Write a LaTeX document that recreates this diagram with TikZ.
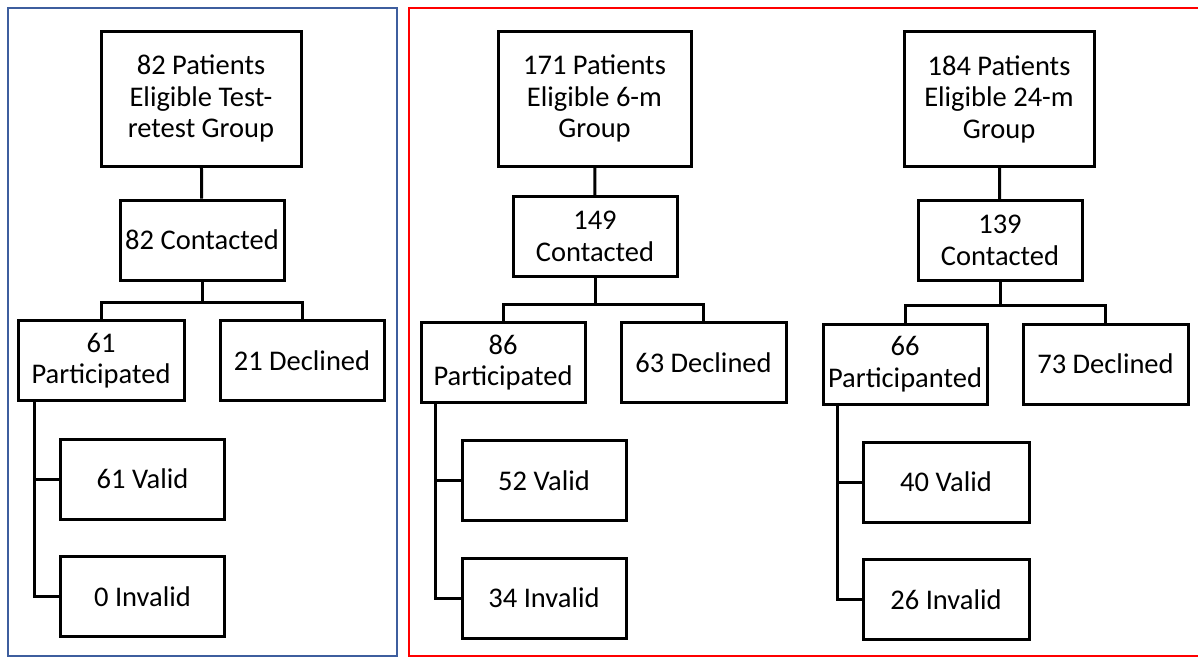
\documentclass[tikz,border=0pt]{standalone}
\usepackage{fontspec}
\setmainfont{Carlito}
\usetikzlibrary{positioning}
\definecolor{frameblue}{RGB}{62,94,158}
\definecolor{framered}{RGB}{255,0,0}

\begin{document}
\begin{tikzpicture}[x=1pt, y=-1pt, line width=3pt,
    box/.style={draw, line width=3pt, align=center, inner sep=2pt,
        font=\fontsize{28.5}{31.5}\selectfont, minimum width=164pt, minimum height=80pt},
    topbox/.style={box, minimum height=135pt}]

    \useasboundingbox (0,0) rectangle (1198,657);

    % group frames
    \draw[frameblue, line width=2pt] (8,8) rectangle (397,656);
    \draw[framered, line width=2.5pt] (409,8) rectangle (1203,656);

    % Test-retest group (left)
    \node[topbox, minimum width=200pt] (top1) at (201,98.5) {82 Patients\\Eligible Test-\\retest Group};
    \node[box] (con1) at (202,240) {82 Contacted};
    \node[box, minimum width=166pt] (par1) at (101,360.5) {61\\Participated};
    \node[box] (dec1) at (302,360.5) {21 Declined};
    \node[box] (val1) at (142.5,479) {61 Valid};
    \node[box] (inv1) at (142.5,596.5) {0 Invalid};

    \draw (top1) -- (con1);
    \draw (con1.south) -- ++(0,21) -| (par1.north);
    \draw (con1.south) -- ++(0,21) -| (dec1.north);
    \draw ([xshift=18pt]par1.south west) |- (val1.west);
    \draw ([xshift=18pt]par1.south west) |- (inv1.west);

    % 6-month group (middle)
    \node[topbox, minimum width=193pt] (top2) at (594.5,98.5) {171 Patients\\Eligible 6-m\\Group};
    \node[box] (con2) at (595,236.5) {149\\Contacted};
    \node[box] (par2) at (503,362.5) {86\\Participated};
    \node[box, minimum width=165pt] (dec2) at (703.5,362.5) {63 Declined};
    \node[box] (val2) at (544,480.5) {52 Valid};
    \node[box] (inv2) at (544,598) {34 Invalid};

    \draw (top2) -- (con2);
    \draw (con2.south) -- ++(0,26) -| (par2.north);
    \draw (con2.south) -- ++(0,26) -| (dec2.north);
    \draw ([xshift=16pt]par2.south west) |- (val2.west);
    \draw ([xshift=16pt]par2.south west) |- (inv2.west);

    % 24-month group (right)
    \node[topbox, minimum width=190pt] (top3) at (999,99) {184 Patients\\Eligible 24-m\\Group};
    \node[box] (con3) at (1000,240.5) {139\\Contacted};
    \node[box] (par3) at (905,364) {66\\Participanted};
    \node[box, minimum width=165pt] (dec3) at (1105.5,364) {73 Declined};
    \node[box, minimum width=166pt] (val3) at (946,482) {40 Valid};
    \node[box, minimum width=166pt] (inv3) at (946,599.5) {26 Invalid};

    \draw (top3) -- (con3);
    \draw (con3.south) -- ++(0,23) -| (par3.north);
    \draw (con3.south) -- ++(0,23) -| (dec3.north);
    \draw ([xshift=16pt]par3.south west) |- (val3.west);
    \draw ([xshift=16pt]par3.south west) |- (inv3.west);

\end{tikzpicture}
\end{document}
